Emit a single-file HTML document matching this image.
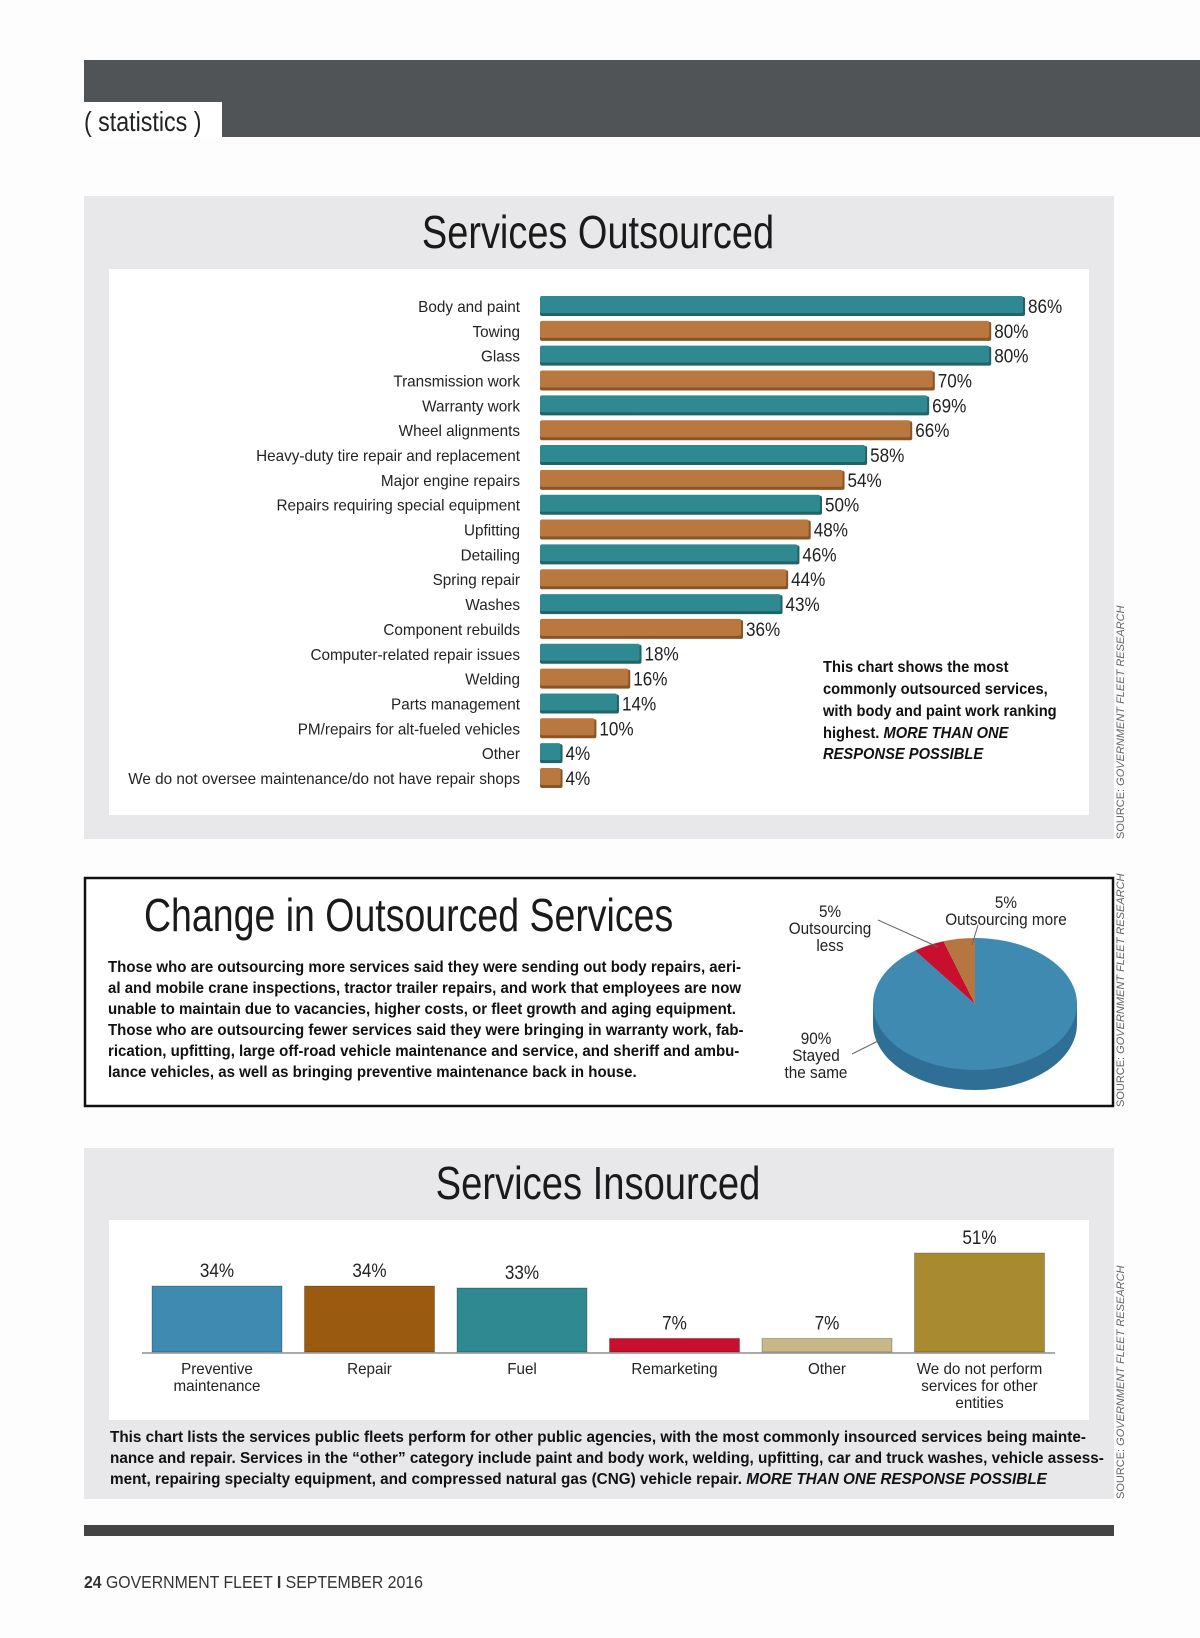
<!DOCTYPE html>
<html><head><meta charset="utf-8">
<style>
html,body{margin:0;padding:0;background:#fff;}
svg{display:block;}
text{font-family:"Liberation Sans Narrow","Liberation Sans",sans-serif;}
</style></head>
<body>
<svg id="page" width="1200" height="1638" viewBox="0 0 1200 1638" xmlns="http://www.w3.org/2000/svg">
<rect x="0" y="0" width="1200" height="1638" fill="#fdfdfd"/>
<rect x="84" y="60" width="1116" height="77" fill="#515456"/>
<rect x="84" y="102" width="138" height="35" fill="#fff"/>
<text x="84" y="131" font-size="28" fill="#222" transform="matrix(0.83 0 0 1 14.28 0)">( statistics )</text>

<!-- Panel 1 -->
<rect x="84" y="196" width="1030" height="643" fill="#e8e8ea"/>
<text x="598" y="248" font-size="46" text-anchor="middle" fill="#1a1a1a" transform="matrix(0.825 0 0 1 104.65 0)">Services Outsourced</text>
<rect x="109" y="269" width="980" height="546" fill="#fff"/>
<g id="hbars"></g>
<text font-size="16" font-weight="bold" fill="#111" transform="matrix(0.92 0 0 1 65.84 0)">
<tspan x="823" y="672">This chart shows the most</tspan>
<tspan x="823" y="694">commonly outsourced services,</tspan>
<tspan x="823" y="716">with body and paint work ranking</tspan>
<tspan x="823" y="738">highest. <tspan font-style="italic">MORE THAN ONE</tspan></tspan>
<tspan x="823" y="759" font-style="italic">RESPONSE POSSIBLE</tspan>
</text>
<text transform="translate(1124,839) rotate(-90)" font-size="11" fill="#666" font-family="Liberation Sans">SOURCE: <tspan font-style="italic">GOVERNMENT FLEET RESEARCH</tspan></text>

<!-- Panel 2 -->
<rect x="85" y="878" width="1028" height="228" fill="#fff" stroke="#111" stroke-width="2.5"/>
<text x="144" y="931" font-size="46" fill="#1a1a1a" transform="matrix(0.815 0 0 1 26.64 0)">Change in Outsourced Services</text>
<text font-size="16" font-weight="bold" fill="#111" transform="matrix(0.94 0 0 1 6.48 0)">
<tspan x="108" y="972">Those who are outsourcing more services said they were sending out body repairs, aeri-</tspan>
<tspan x="108" y="993">al and mobile crane inspections, tractor trailer repairs, and work that employees are now</tspan>
<tspan x="108" y="1014">unable to maintain due to vacancies, higher costs, or fleet growth and aging equipment.</tspan>
<tspan x="108" y="1035">Those who are outsourcing fewer services said they were bringing in warranty work, fab-</tspan>
<tspan x="108" y="1056">rication, upfitting, large off-road vehicle maintenance and service, and sheriff and ambu-</tspan>
<tspan x="108" y="1077">lance vehicles, as well as bringing preventive maintenance back in house.</tspan>
</text>
<g id="pie"></g>
<text transform="translate(1124,1107) rotate(-90)" font-size="11" fill="#666" font-family="Liberation Sans">SOURCE: <tspan font-style="italic">GOVERNMENT FLEET RESEARCH</tspan></text>

<!-- Panel 3 -->
<rect x="84" y="1148" width="1030" height="351" fill="#e8e8ea"/>
<text x="598" y="1199" font-size="46" text-anchor="middle" fill="#1a1a1a" transform="matrix(0.83 0 0 1 101.66 0)">Services Insourced</text>
<rect x="109" y="1220" width="980" height="200" fill="#fff"/>
<g id="vbars"></g>
<text font-size="16" font-weight="bold" fill="#111" transform="matrix(0.956 0 0 1 4.84 0)">
<tspan x="110" y="1442">This chart lists the services public fleets perform for other public agencies, with the most commonly insourced services being mainte-</tspan>
<tspan x="110" y="1463">nance and repair. Services in the “other” category include paint and body work, welding, upfitting, car and truck washes, vehicle assess-</tspan>
<tspan x="110" y="1484">ment, repairing specialty equipment, and compressed natural gas (CNG) vehicle repair. <tspan font-style="italic">MORE THAN ONE RESPONSE POSSIBLE</tspan></tspan>
</text>
<text transform="translate(1124,1499) rotate(-90)" font-size="11" fill="#666" font-family="Liberation Sans">SOURCE: <tspan font-style="italic">GOVERNMENT FLEET RESEARCH</tspan></text>

<rect x="84" y="1525" width="1030" height="11" fill="#444"/>
<text x="84" y="1588" font-size="18" fill="#333" transform="matrix(0.88 0 0 1 10.08 0)"><tspan font-weight="bold">24</tspan>   GOVERNMENT FLEET  <tspan font-weight="bold">I</tspan>  SEPTEMBER 2016</text>
</svg>
<script>
const outCategories=["Body and paint","Towing","Glass","Transmission work","Warranty work","Wheel alignments","Heavy-duty tire repair and replacement","Major engine repairs","Repairs requiring special equipment","Upfitting","Detailing","Spring repair","Washes","Component rebuilds","Computer-related repair issues","Welding","Parts management","PM/repairs for alt-fueled vehicles","Other","We do not oversee maintenance/do not have repair shops"];
const outValues=[86,80,80,70,69,66,58,54,50,48,46,44,43,36,18,16,14,10,4,4];
const pieLabels=["Stayed the same","Outsourcing less","Outsourcing more"];
const pieValues=[90,5,5];
const inCategories=[["Preventive","maintenance"],["Repair"],["Fuel"],["Remarketing"],["Other"],["We do not perform","services for other","entities"]];
const inValues=[34,34,33,7,7,51];

const NS="http://www.w3.org/2000/svg";
function mk(tag,attrs,parent){const e=document.createElementNS(NS,tag);for(const k in attrs)e.setAttribute(k,attrs[k]);parent.appendChild(e);return e;}
function sq(s,ax){return `matrix(${s} 0 0 1 ${ax*(1-s)} 0)`;}

// horizontal bars
const hx=v=>540+v*5.64;
const hy=i=>306+i*24.84;
const hg=document.getElementById('hbars');
outValues.forEach((v,i)=>{
  const col=i%2===0?"#2e8a90":"#b87840";
  const dark=i%2===0?"#1f6468":"#8a5526";
  const y=hy(i);
  const sh=mk('rect',{x:540,y:y-9,width:hx(v)-540,height:19,fill:dark,rx:2},hg);
  
  
  const b=mk('rect',{x:540,y:y-10,width:hx(v)-540-2,height:17,fill:col,rx:2},hg);
  
  
  const l=mk('text',{x:520,y:y+6,'font-size':16,'text-anchor':'end',fill:'#222',transform:sq(0.955,520)},hg);
  l.textContent=outCategories[i];
  
  
  const tx=hx(v)+3;
  const t=mk('text',{x:tx,y:y+7,'font-size':19,fill:'#222',transform:sq(0.9,tx)},hg);
  t.textContent=v+"%";
  
  
});

// pie
const pg=document.getElementById('pie');
const cx=975,cy=1004,rx=102,ry=66,depth=20;
const side=mk('path',{d:`M${cx-rx},${cy} L${cx-rx},${cy+depth} A${rx},${ry} 0 0 0 ${cx+rx},${cy+depth} L${cx+rx},${cy} Z`,fill:'#2f6f95'},pg);


const cols=["#3f8ab0","#c8102e","#b5773f"];
const total=pieValues.reduce((a,b)=>a+b,0);
let ang=-Math.PI/2;
pieValues.forEach((v,i)=>{
  const a2=ang+v/total*2*Math.PI;
  const p1=[cx+rx*Math.cos(ang),cy+ry*Math.sin(ang)];
  const p2=[cx+rx*Math.cos(a2),cy+ry*Math.sin(a2)];
  const large=(a2-ang)>Math.PI?1:0;
  const s=mk('path',{d:`M${cx},${cy} L${p1[0]},${p1[1]} A${rx},${ry} 0 ${large} 1 ${p2[0]},${p2[1]} Z`,fill:cols[i]},pg);
  
  
  ang=a2;
});
const pl=[{x:830,y:917,t:["5%","Outsourcing","less"],lx:[878,920,938,947]},{x:1006,y:908,t:["5%","Outsourcing more"],lx:[978,925,972,945]},{x:816,y:1044,t:["90%","Stayed","the same"],lx:[852,1054,880,1040]}];
pl.forEach(p=>{
  const t=mk('text',{'font-size':17,'text-anchor':'middle',fill:'#222',transform:sq(0.9,p.x)},pg);
  
  
  p.t.forEach((s,k)=>{const ts=mk('tspan',{x:p.x,y:p.y+k*17},t);ts.textContent=s;});
  const q=p.lx;
  const ln=mk('line',{x1:q[0],y1:q[1],x2:q[2],y2:q[3],stroke:'#666','stroke-width':1},pg);
  
  
});

// vertical bars
const vg=document.getElementById('vbars');
const base=1352;
const vx=i=>152+i*152.5;
const vh=v=>v*1.94;
const vcols=["#3f8ab0","#9a5a0f","#2e8a90","#c8102e","#c8b888","#a88a30"];
const bl=mk('line',{x1:142,y1:base+1,x2:1055,y2:base+1,stroke:'#aaa','stroke-width':2},vg);


inValues.forEach((v,i)=>{
  const x=vx(i);
  const b=mk('rect',{x:x,y:base-vh(v),width:130,height:vh(v),fill:vcols[i],stroke:'rgba(0,0,0,0.25)','stroke-width':1},vg);
  
  
  const t=mk('text',{x:x+65,y:base-vh(v)-9,'font-size':19,'text-anchor':'middle',fill:'#222',transform:sq(0.9,x+65)},vg);
  t.textContent=v+"%";
  
  
  const l=mk('text',{'font-size':16,'text-anchor':'middle',fill:'#222',transform:sq(0.95,x+65)},vg);
  
  
  inCategories[i].forEach((s,j)=>{const ts=mk('tspan',{x:x+65,y:1374+j*17},l);ts.textContent=s;});
});
</script>
</body></html>
